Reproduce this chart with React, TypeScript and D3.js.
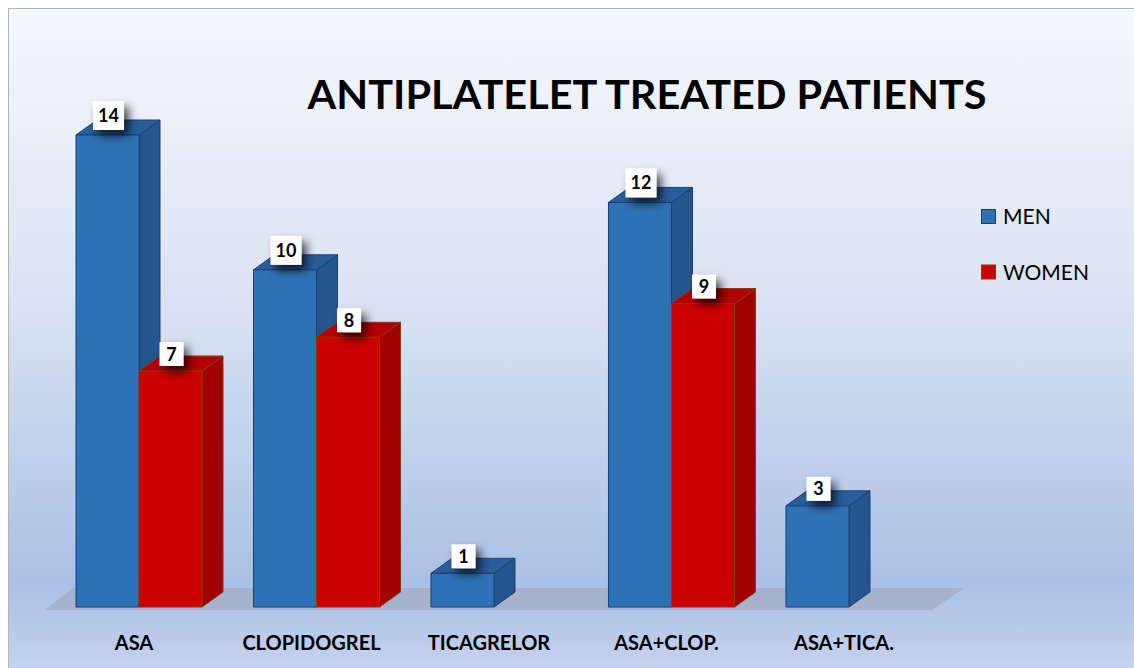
import React from 'react';
import * as d3 from 'd3';

const categories = ['ASA', 'CLOPIDOGREL', 'TICAGRELOR', 'ASA+CLOP.', 'ASA+TICA.'];
const seriesNames = ['MEN', 'WOMEN'];
const menValues = [14, 10, 1, 12, 3];
const womenValues = [7, 8, 0, 9, 0];

const W = 1134;
const H = 668;
const DX = 21; // bar depth offset
const DY = -15;

const colors = {
  MEN: { front: '#2e72b6', side: '#23568f', top: '#285e9c', stroke: '#1d3f6e' },
  WOMEN: { front: '#cc0000', side: '#a10000', top: '#b20000', stroke: '#843c0c' },
};

const App = () => {
  const x = d3.scaleBand().domain(categories).range([76, 912]).paddingInner(0.29).paddingOuter(0);
  const sub = d3.scaleBand().domain(seriesNames).range([0, x.bandwidth()]);
  const y = d3.scaleLinear().domain([0, 14]).range([607, 135]);
  const bw = sub.bandwidth();

  const bars = [];
  categories.forEach((c, i) => {
    [menValues[i], womenValues[i]].forEach((v, j) => {
      if (!v) return;
      bars.push({ cat: c, s: seriesNames[j], v, x0: x(c) + sub(seriesNames[j]), y0: y(v) });
    });
  });

  const base = y(0);
  const floorL = x.range()[0] - 31;
  const floorR = x.range()[1] + 20;
  const floor = `M${floorL},${base + 3} L${floorR},${base + 3} L${floorR + 32},${base - 19} L${floorL + 28},${base - 19} Z`;

  return (
    <div style={{ position: 'absolute', left: 0, top: 0 }}>
      <svg width={W} height={H} style={{ display: 'block' }}>
        <defs>
          <linearGradient id="bg" x1="0" y1="0" x2="0" y2="1">
            <stop offset="0%" stopColor="#f6f8fd" />
            <stop offset="45%" stopColor="#d9e2f3" />
            <stop offset="86%" stopColor="#abc0e5" />
            <stop offset="100%" stopColor="#c6d4ee" />
          </linearGradient>
          <filter id="sh" x="-60%" y="-60%" width="250%" height="250%">
            <feDropShadow dx="5" dy="6" stdDeviation="5" floodColor="#000" floodOpacity="0.7" />
          </filter>
        </defs>
        <rect x={8.5} y={8.5} width={W} height={H} fill="url(#bg)" stroke="#b4b4b4" />

        <text
          x={647}
          y={109}
          textAnchor="middle"
          fontFamily="Lato, sans-serif"
          fontWeight="bold"
          fontSize={41}
          textLength={679}
          lengthAdjust="spacingAndGlyphs"
          fill="#000"
        >
          ANTIPLATELET TREATED PATIENTS
        </text>

        <path d={floor} fill="#a6b2cb" />

        {bars.map((b, k) => {
          const c = colors[b.s];
          const x1 = b.x0 + bw;
          return (
            <g key={k} stroke={c.stroke} strokeWidth={1} strokeLinejoin="round">
              <path d={`M${x1},${b.y0} L${x1 + DX},${b.y0 + DY} L${x1 + DX},${base + DY} L${x1},${base} Z`} fill={c.side} />
              <path d={`M${b.x0},${b.y0} L${x1},${b.y0} L${x1 + DX},${b.y0 + DY} L${b.x0 + DX},${b.y0 + DY} Z`} fill={c.top} />
              <rect x={b.x0} y={b.y0} width={bw} height={base - b.y0} fill={c.front} />
            </g>
          );
        })}

        {bars.map((b, k) => {
          const txt = String(b.v);
          const bwid = txt.length > 1 ? 31 : 24;
          const bh = txt.length > 1 ? 29 : 24;
          const cx = b.x0 + bw / 2 + 1;
          const top = b.y0 - 5 - bh;
          return (
            <g key={'l' + k}>
              <rect x={cx - bwid / 2} y={top} width={bwid} height={bh} fill="#fff" filter="url(#sh)" />
              <text
                x={cx}
                y={top + bh / 2 + 6.5}
                textAnchor="middle"
                fontFamily="Lato, sans-serif"
                fontWeight="bold"
                fontSize={18}
                fill="#000"
              >
                {txt}
              </text>
            </g>
          );
        })}

        {categories.map((c) => (
          <text
            key={c}
            x={x(c) + x.bandwidth() / 2 - 5}
            y={650}
            textAnchor="middle"
            fontFamily="Lato, sans-serif"
            fontWeight="bold"
            fontSize={20}
            fill="#000"
          >
            {c}
          </text>
        ))}

        {seriesNames.map((s, i) => (
          <g key={s} transform={`translate(981,${209 + i * 55.5})`}>
            <rect x={0.5} y={0.5} width={14} height={14} fill={colors[s].front} stroke={colors[s].stroke} />
            <text x={22} y={15} fontFamily="Lato, sans-serif" fontSize={21} fill="#000">
              {s}
            </text>
          </g>
        ))}
      </svg>
    </div>
  );
};

export default App;
